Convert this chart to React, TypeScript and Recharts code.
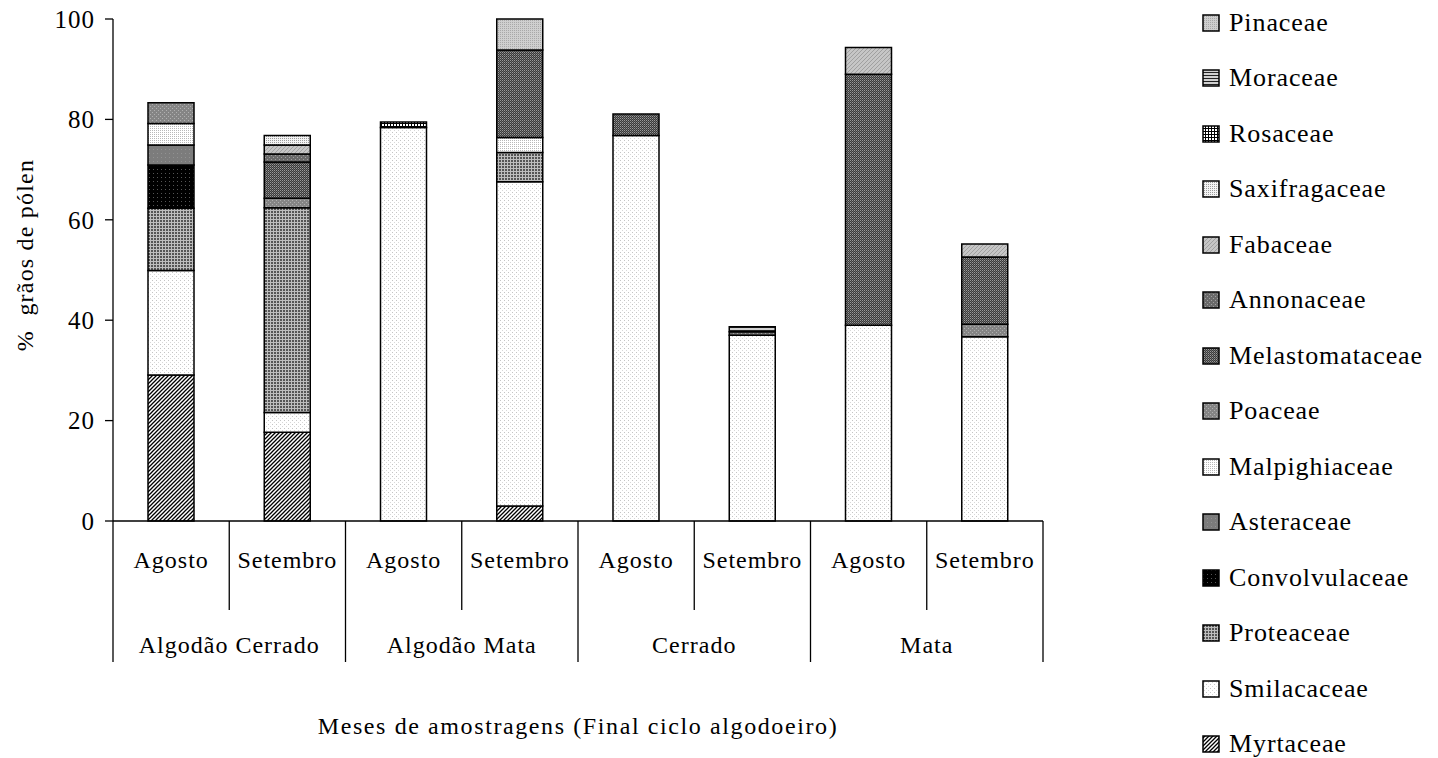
import { BarChart, Bar, XAxis, YAxis } from "recharts";

// x categories (month within each site)
const months = ["Agosto", "Setembro", "Agosto", "Setembro", "Agosto", "Setembro", "Agosto", "Setembro"];
const groups = [
  "Algodão Cerrado", "Algodão Cerrado",
  "Algodão Mata", "Algodão Mata",
  "Cerrado", "Cerrado",
  "Mata", "Mata",
];

// % pollen grains per family, stacked bottom -> top
const myrtaceae = [29.1, 17.7, 0, 3.0, 0, 0, 0, 0];
const smilacaceae = [20.8, 3.9, 78.4, 64.6, 76.8, 37.0, 39.0, 36.7];
const proteaceae = [12.4, 40.8, 0, 5.8, 0, 0, 0, 0];
const convolvulaceae = [8.6, 0, 0, 0, 0, 0, 0, 0];
const asteraceae = [4.0, 0, 0, 0, 0, 0, 0, 0];
const malpighiaceae = [4.3, 0, 0, 3.0, 0, 0, 0, 0];
const poaceae = [4.1, 1.9, 0, 0, 0, 0, 0, 2.5];
const melastomataceae = [0, 7.2, 0, 17.4, 4.3, 0, 50.0, 13.4];
const annonaceae = [0, 1.6, 0, 0, 0, 0.7, 0, 0];
const fabaceae = [0, 1.8, 0, 0, 0, 0, 5.3, 2.6];
const saxifragaceae = [0, 1.9, 0, 0, 0, 0, 0, 0];
const rosaceae = [0, 0, 1.1, 0, 0, 0, 0, 0];
const moraceae = [0, 0, 0, 0, 0, 1.0, 0, 0];
const pinaceae = [0, 0, 0, 6.2, 0, 0, 0, 0];

const families: [string, number[]][] = [
  ["Myrtaceae", myrtaceae],
  ["Smilacaceae", smilacaceae],
  ["Proteaceae", proteaceae],
  ["Convolvulaceae", convolvulaceae],
  ["Asteraceae", asteraceae],
  ["Malpighiaceae", malpighiaceae],
  ["Poaceae", poaceae],
  ["Melastomataceae", melastomataceae],
  ["Annonaceae", annonaceae],
  ["Fabaceae", fabaceae],
  ["Saxifragaceae", saxifragaceae],
  ["Rosaceae", rosaceae],
  ["Moraceae", moraceae],
  ["Pinaceae", pinaceae],
];

const yTicks = [0, 20, 40, 60, 80, 100];

const data = months.map((m, i) => {
  const row: Record<string, string | number> = { month: m, group: groups[i] };
  families.forEach(([name, vals]) => {
    row[name] = vals[i];
  });
  return row;
});

const FONT = '"Liberation Serif", "Times New Roman", serif';
const W = 1438;
const H = 758;
const MARGIN = { top: 19, right: 395, left: 0, bottom: 87 };
const Y_AXIS_W = 113;
const BAND = (W - MARGIN.right - MARGIN.left - Y_AXIS_W) / months.length;

const patId = (name: string) => "pat-" + name.toLowerCase();

// Excel-style fill patterns, one per family
function Patterns() {
  return (
    <svg width={0} height={0} style={{ position: "absolute" }}>
      <defs>
        <pattern id={patId("Myrtaceae")} width={4} height={4} patternUnits="userSpaceOnUse">
          <rect width={4} height={4} fill="#fff" />
          <path d="M-1,1 l2,-2 M0,4 l4,-4 M3,5 l2,-2" stroke="#000" strokeWidth={1.3} />
        </pattern>
        <pattern id={patId("Smilacaceae")} width={4} height={4} patternUnits="userSpaceOnUse">
          <rect width={4} height={4} fill="#fff" />
          <rect x={0} y={0} width={1} height={1} fill="#c4c4c4" />
          <rect x={2} y={2} width={1} height={1} fill="#d8d8d8" />
        </pattern>
        <pattern id={patId("Proteaceae")} width={3} height={3} patternUnits="userSpaceOnUse">
          <rect width={3} height={3} fill="#555" />
          <rect x={0} y={0} width={3} height={1} fill="#bdbdbd" />
          <rect x={0} y={0} width={1} height={3} fill="#bdbdbd" />
        </pattern>
        <pattern id={patId("Convolvulaceae")} width={4} height={4} patternUnits="userSpaceOnUse">
          <rect width={4} height={4} fill="#000" />
          <rect x={1} y={1} width={1} height={1} fill="#555" />
        </pattern>
        <pattern id={patId("Asteraceae")} width={4} height={4} patternUnits="userSpaceOnUse">
          <rect width={4} height={4} fill="#7c7c7c" />
          <rect x={1} y={1} width={1} height={1} fill="#929292" />
        </pattern>
        <pattern id={patId("Malpighiaceae")} width={2} height={2} patternUnits="userSpaceOnUse">
          <rect width={2} height={2} fill="#fff" />
          <rect x={0} y={0} width={1} height={1} fill="#b8b8b8" />
        </pattern>
        <pattern id={patId("Poaceae")} width={4} height={4} patternUnits="userSpaceOnUse">
          <rect width={4} height={4} fill="#858585" />
          <rect x={0} y={0} width={1} height={1} fill="#b0b0b0" />
          <rect x={2} y={2} width={1} height={1} fill="#b0b0b0" />
        </pattern>
        <pattern id={patId("Melastomataceae")} width={2} height={2} patternUnits="userSpaceOnUse">
          <rect width={2} height={2} fill="#3a3a3a" />
          <rect x={0} y={0} width={1} height={1} fill="#9a9a9a" />
          <rect x={1} y={1} width={1} height={1} fill="#6a6a6a" />
        </pattern>
        <pattern id={patId("Annonaceae")} width={4} height={4} patternUnits="userSpaceOnUse">
          <rect width={4} height={4} fill="#6a6a6a" />
          <rect x={1} y={1} width={1} height={1} fill="#a0a0a0" />
          <rect x={3} y={3} width={1} height={1} fill="#a0a0a0" />
        </pattern>
        <pattern id={patId("Fabaceae")} width={4} height={4} patternUnits="userSpaceOnUse">
          <rect width={4} height={4} fill="#c6c6c6" />
          <path d="M0,4 l4,-4" stroke="#a0a0a0" strokeWidth={1} />
        </pattern>
        <pattern id={patId("Saxifragaceae")} width={2} height={2} patternUnits="userSpaceOnUse">
          <rect width={2} height={2} fill="#f4f4f4" />
          <rect x={0} y={0} width={1} height={1} fill="#9c9c9c" />
        </pattern>
        <pattern id={patId("Rosaceae")} width={3} height={3} patternUnits="userSpaceOnUse">
          <rect width={3} height={3} fill="#fff" />
          <rect x={0} y={0} width={3} height={1} fill="#000" />
          <rect x={0} y={0} width={1} height={3} fill="#000" />
        </pattern>
        <pattern id={patId("Moraceae")} width={3} height={3} patternUnits="userSpaceOnUse">
          <rect width={3} height={3} fill="#d0d0d0" />
          <rect x={0} y={0} width={3} height={1} fill="#222" />
        </pattern>
        <pattern id={patId("Pinaceae")} width={2} height={2} patternUnits="userSpaceOnUse">
          <rect width={2} height={2} fill="#cfcfcf" />
          <rect x={0} y={0} width={1} height={1} fill="#a8a8a8" />
        </pattern>
      </defs>
    </svg>
  );
}

// month label + separators between categories
function MonthTick(props: any) {
  const { x, y, payload, index } = props;
  const half = BAND / 2;
  const last = index === months.length - 1;
  return (
    <g>
      <text x={x} y={y + 47} textAnchor="middle" fontFamily={FONT} fontSize={24} letterSpacing={1} fill="#000">
        {payload.value}
      </text>
      <line x1={x - half} y1={y} x2={x - half} y2={y + (index % 2 === 0 ? 141 : 89)} stroke="#000" strokeWidth={1.3} />
      {last && <line x1={x + half} y1={y} x2={x + half} y2={y + 141} stroke="#000" strokeWidth={1.3} />}
    </g>
  );
}

function GroupTick(props: any) {
  const { x, y, payload } = props;
  return (
    <text x={x} y={y + 42} textAnchor="middle" fontFamily={FONT} fontSize={24} letterSpacing={1} fill="#000">
      {payload.value}
    </text>
  );
}

function LegendBox() {
  const items = [...families].reverse();
  return (
    <div style={{ position: "absolute", left: 1202, top: -5, fontFamily: FONT, fontSize: 26, letterSpacing: 0.9 }}>
      {items.map(([name]) => (
        <div key={name} style={{ height: 55.5, display: "flex", alignItems: "center" }}>
          <svg width={18} height={18} style={{ marginRight: 9 }}>
            <rect x={1} y={1} width={16} height={16} fill={`url(#${patId(name)})`} stroke="#000" strokeWidth={1.5} />
          </svg>
          <span>{name}</span>
        </div>
      ))}
    </div>
  );
}

export default function App() {
  return (
    <div style={{ position: "absolute", left: 0, top: 0, width: W, height: H, background: "#fff" }}>
      <Patterns />
      <BarChart width={W} height={H} data={data} margin={MARGIN} barSize={46}>
        <YAxis
          width={Y_AXIS_W}
          domain={[0, 100]}
          ticks={yTicks}
          interval={0}
          tickSize={8}
          tickMargin={10}
          axisLine={{ stroke: "#000", strokeWidth: 1.3 }}
          tickLine={{ stroke: "#000", strokeWidth: 1.3 }}
          tick={{ fill: "#000", fontSize: 25, fontFamily: FONT, letterSpacing: 1 }}
          label={{
            content: (p: any) => {
              const cy = p.viewBox.y + p.viewBox.height / 2 - 15;
              return (
                <text
                  x={25}
                  y={cy}
                  transform={`rotate(-90, 25, ${cy})`}
                  textAnchor="middle"
                  dominantBaseline="central"
                  fontFamily={FONT}
                  fontSize={24}
                  letterSpacing={1.2}
                  fill="#000"
                >
                  {"%\u00a0 grãos de pólen"}
                </text>
              );
            },
          }}
        />
        <XAxis
          dataKey="month"
          height={90}
          interval={0}
          tickSize={0}
          tickMargin={0}
          tickLine={false}
          axisLine={{ stroke: "#000", strokeWidth: 1.3 }}
          tick={<MonthTick />}
        />
        <XAxis
          xAxisId="group"
          dataKey="group"
          allowDuplicatedCategory={false}
          height={60}
          interval={0}
          tickSize={0}
          tickMargin={0}
          tickLine={false}
          axisLine={false}
          tick={<GroupTick />}
          label={{
            content: (p: any) => (
              <text
                x={p.viewBox.x + p.viewBox.width / 2}
                y={p.viewBox.y + p.viewBox.height + 63}
                textAnchor="middle"
                fontFamily={FONT}
                fontSize={24}
                letterSpacing={1.6}
                fill="#000"
              >
                Meses de amostragens (Final ciclo algodoeiro)
              </text>
            ),
          }}
        />
        {families.map(([name]) => (
          <Bar
            key={name}
            dataKey={name}
            stackId="a"
            fill={`url(#${patId(name)})`}
            stroke="#000"
            strokeWidth={1.5}
            isAnimationActive={false}
          />
        ))}
      </BarChart>
      <LegendBox />
    </div>
  );
}
